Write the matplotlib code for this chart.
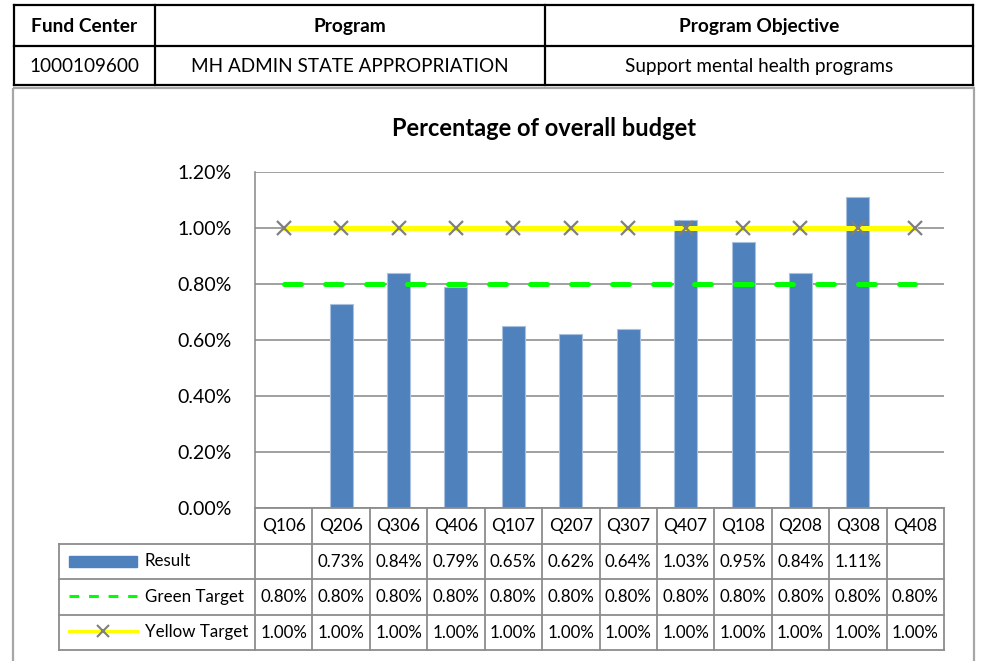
import numpy as np
import matplotlib
matplotlib.use("Agg")
import matplotlib.pyplot as plt
from matplotlib.patches import Rectangle
from matplotlib.ticker import FuncFormatter, MultipleLocator

plt.rcParams['font.family'] = ['Lato', 'DejaVu Sans']

# header table
header_cols = ['Fund Center', 'Program', 'Program Objective']
header_vals = ['1000109600', 'MH ADMIN STATE APPROPRIATION', 'Support mental health programs']

# chart data (percent)
categories = ['Q106', 'Q206', 'Q306', 'Q406', 'Q107', 'Q207', 'Q307', 'Q407',
              'Q108', 'Q208', 'Q308', 'Q408']
result = [np.nan, 0.73, 0.84, 0.79, 0.65, 0.62, 0.64, 1.03, 0.95, 0.84, 1.11, np.nan]
green_target = [0.80, 0.80, 0.80, 0.80, 0.80, 0.80, 0.80, 0.80, 0.80, 0.80, 0.80, 0.80]
yellow_target = [1.00, 1.00, 1.00, 1.00, 1.00, 1.00, 1.00, 1.00, 1.00, 1.00, 1.00, 1.00]
series_names = ['Result', 'Green Target', 'Yellow Target']

W, H = 981, 661
BLUE = '#4f81bd'
GRID = '#868686'
TBL = '#8c8c8c'

fig = plt.figure(figsize=(W / 100, H / 100), dpi=100)


def frac(x0, y0, x1, y1):
    # pixel box (top-left origin) -> figure fraction rect
    return [x0 / W, 1 - y1 / H, (x1 - x0) / W, (y1 - y0) / H]


# overlay in pixel coordinates for header table and chart frame
bg = fig.add_axes([0, 0, 1, 1])
bg.set_xlim(0, W)
bg.set_ylim(H, 0)
bg.axis('off')

hx = [14, 155, 545, 973]
hy = [5, 46, 85]
for y in hy:
    bg.plot([hx[0], hx[-1]], [y, y], color='black', lw=1.6, solid_capstyle='projecting')
for x in hx:
    bg.plot([x, x], [hy[0], hy[-1]], color='black', lw=1.6, solid_capstyle='projecting')
for i in range(3):
    cx = (hx[i] + hx[i + 1]) / 2
    bg.text(cx, (hy[0] + hy[1]) / 2 + 1, header_cols[i], ha='center', va='center',
            fontsize=13.8, fontweight='bold')
    bg.text(cx, (hy[1] + hy[2]) / 2 + 1, header_vals[i], ha='center', va='center',
            fontsize=13.6)

bg.add_patch(Rectangle((13, 88), 961, 600, fill=False, edgecolor='#a6a6a6', lw=1.6))
bg.text(544, 128, 'Percentage of overall budget', ha='center', va='center',
        fontsize=17, fontweight='bold')

# main chart
ax = fig.add_axes(frac(255, 172, 944, 508))
x = np.arange(len(categories))
ax.bar(x, result, width=0.4, color=BLUE, edgecolor='#a9c1de', lw=0.8, zorder=2)
ax.plot(x, green_target, color='#00ff00', lw=3.6, linestyle=(0, (3.4, 4.8)),
        dash_capstyle='round', zorder=3)
ax.plot(x, yellow_target, color='#ffff00', lw=3.6, zorder=3)
ax.plot(x, yellow_target, linestyle='none', marker='x', color='#7f7f7f',
        markersize=10, markeredgewidth=1.6, zorder=4)

ax.set_xlim(-0.5, len(categories) - 0.5)
ax.set_ylim(0, 1.2)
ax.yaxis.set_major_locator(MultipleLocator(0.2))
ax.yaxis.set_major_formatter(FuncFormatter(lambda v, p: f'{v:.2f}%'))
ax.grid(axis='y', color=GRID, lw=1.1, zorder=0)
ax.set_axisbelow(True)
ax.tick_params(axis='y', length=0, pad=17, labelsize=14)
ax.tick_params(axis='x', bottom=False, labelbottom=False)
for s in ['top', 'right', 'bottom']:
    ax.spines[s].set_visible(False)
ax.spines['left'].set_color(GRID)
ax.spines['left'].set_linewidth(1.1)

# data table under the chart, sharing the category scale
tax = fig.add_axes(frac(255, 508, 944, 650), sharex=ax)
tax.set_ylim(4, 0)
tax.axis('off')
n = len(categories)
col_px = (944 - 255) / n
leg_left = -0.5 - (255 - 59) / col_px

lkw = dict(color=TBL, lw=1.3, clip_on=False, solid_capstyle='projecting')
tax.plot([-0.5, n - 0.5], [0, 0], **lkw)
for r in range(1, 5):
    tax.plot([leg_left, n - 0.5], [r, r], **lkw)
for i in range(n + 1):
    tax.plot([i - 0.5, i - 0.5], [0, 4], **lkw)
tax.plot([leg_left, leg_left], [1, 4], **lkw)

for i, c in enumerate(categories):
    tax.text(i, 0.52, c, ha='center', va='center', fontsize=12.5, clip_on=False)
rows = [result, green_target, yellow_target]
for r, vals in enumerate(rows, start=1):
    for i, v in enumerate(vals):
        if not np.isnan(v):
            tax.text(i, r + 0.52, f'{v:.2f}%', ha='center', va='center',
                     fontsize=12.2, clip_on=False)

# legend keys inside the first column
k0 = leg_left + (69 - 59) / col_px
k1 = leg_left + (137 - 59) / col_px
kt = leg_left + (145 - 59) / col_px
tax.add_patch(Rectangle((k0, 1.36), k1 - k0, 0.3, color=BLUE, clip_on=False))
tax.plot([k0, k1], [2.47, 2.47], color='#00ff00', lw=2.2, linestyle=(0, (3.2, 3.2)),
         clip_on=False)
tax.plot([k0, k1], [3.47, 3.47], color='#ffff00', lw=2.2, clip_on=False)
tax.plot([(k0 + k1) / 2], [3.47], marker='x', color='#7f7f7f', markersize=9,
         markeredgewidth=1.5, clip_on=False)
for r, name in enumerate(series_names, start=1):
    tax.text(kt, r + 0.5, name, ha='left', va='center', fontsize=12.2, clip_on=False)

fig.savefig('out.png', dpi=100)
